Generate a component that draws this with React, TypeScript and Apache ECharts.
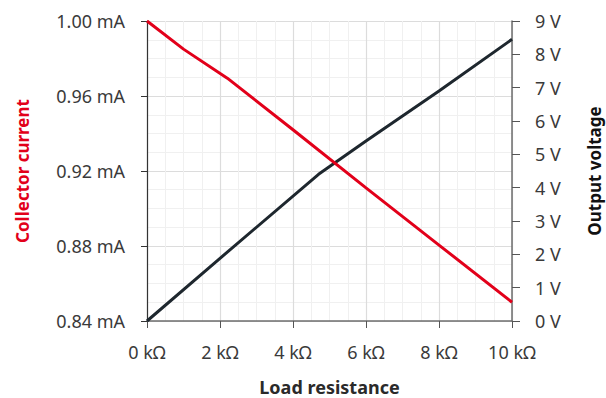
import React, { useEffect, useRef } from "react";
import * as echarts from "echarts";

const currentX = [0, 1, 2.2, 4, 6, 8, 10];
const currentMA = [1.0, 0.985, 0.9695, 0.942, 0.911, 0.8805, 0.85];
const voltageX = [0, 2, 4.7, 6, 8, 10];
const voltageV = [0, 1.88, 4.4, 5.4, 6.9, 8.45];

const FONT = "Noto Sans";
const TXT = "#3a3a3a";

export default function App() {
  const ref = useRef<HTMLDivElement>(null);
  useEffect(() => {
    if (!ref.current) return;
    const chart = echarts.init(ref.current, undefined, { renderer: "svg" });
    chart.setOption({
      animation: false,
      textStyle: { fontFamily: FONT },
      grid: { left: 147, right: 94, top: 21, bottom: 77, outerBoundsMode: "none", containLabel: false },
      xAxis: {
        type: "value",
        min: 0,
        max: 10,
        interval: 2,
        name: "Load resistance",
        nameLocation: "middle",
        nameGap: 57,
        nameTextStyle: { fontFamily: FONT, fontSize: 18, fontWeight: "bold", color: "#2a2a2a" },
        axisLine: { lineStyle: { color: "#6e6e6e", width: 1.5 } },
        axisTick: { show: true, length: 7, lineStyle: { color: "#555" } },
        axisLabel: { margin: 22, fontSize: 18, color: TXT, formatter: (v: number) => `${v} kΩ` },
        splitLine: { show: true, lineStyle: { color: "#dcdcdc", width: 1.2 } },
        minorTick: { show: false, splitNumber: 4 },
        minorSplitLine: { show: true, lineStyle: { color: "#f0f0f0", width: 1 } },
      },
      yAxis: [
        {
          type: "value",
          min: 0.84,
          max: 1.0,
          interval: 0.04,
          position: "left",
          name: "Collector current",
          nameLocation: "middle",
          nameGap: 116,
          nameTextStyle: { fontFamily: FONT, fontSize: 17, fontWeight: "bold", color: "#e2001a" },
          axisLine: { show: true, lineStyle: { color: "#333", width: 1.2 } },
          axisTick: { show: true, length: 6, lineStyle: { color: "#333" } },
          axisLabel: { margin: 22, fontSize: 18, color: TXT, formatter: (v: number) => `${v.toFixed(2)} mA` },
          splitLine: { show: true, lineStyle: { color: "#dcdcdc", width: 1.2 } },
          minorTick: { show: false, splitNumber: 4 },
          minorSplitLine: { show: true, lineStyle: { color: "#f0f0f0", width: 1 } },
        },
        {
          type: "value",
          min: 0,
          max: 9,
          interval: 1,
          position: "right",
          name: "Output voltage",
          nameLocation: "middle",
          nameGap: 74,
          nameTextStyle: { fontFamily: FONT, fontSize: 17, fontWeight: "bold", color: "#111" },
          axisLine: { show: true, lineStyle: { color: "#6e6e6e", width: 1.5 } },
          axisTick: { show: true, length: 8, lineStyle: { color: "#555" } },
          axisLabel: { margin: 23, fontSize: 18, color: TXT, formatter: (v: number) => `${v} V` },
          splitLine: { show: false },
        },
      ],
      series: [
        {
          type: "line",
          yAxisIndex: 0,
          data: currentX.map((x, i) => [x, currentMA[i]]),
          showSymbol: false,
          lineStyle: { color: "#e2001a", width: 3 },
          z: 3,
        },
        {
          type: "line",
          yAxisIndex: 1,
          data: voltageX.map((x, i) => [x, voltageV[i]]),
          showSymbol: false,
          lineStyle: { color: "#1e272e", width: 3 },
          z: 2,
        },
      ],
    });
    return () => chart.dispose();
  }, []);
  return (
    <div
      ref={ref}
      style={{ position: "fixed", left: 0, top: 0, width: 606, height: 398, background: "#fff" }}
    />
  );
}
